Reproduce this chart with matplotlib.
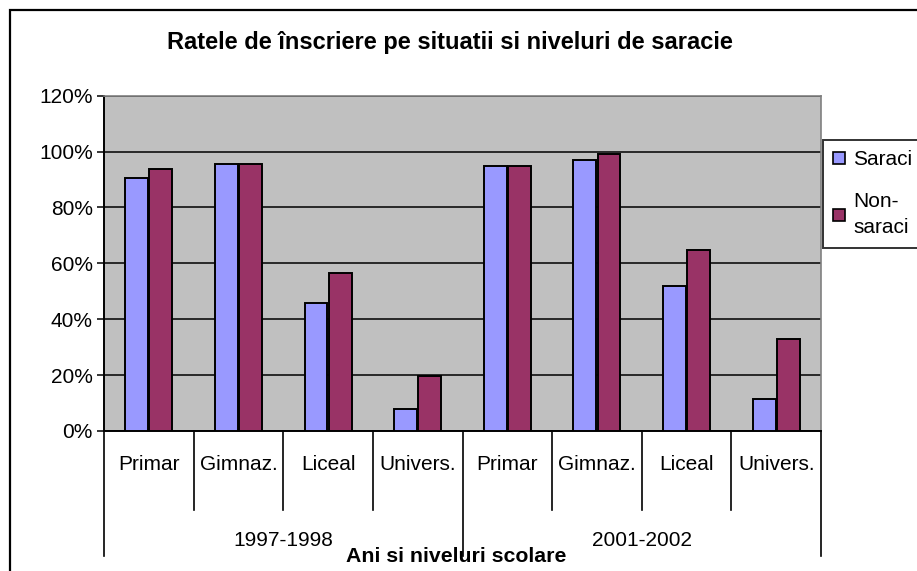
import matplotlib
matplotlib.use("Agg")
import matplotlib.pyplot as plt
from matplotlib.patches import Rectangle, Patch
from matplotlib.ticker import FuncFormatter

plt.rcParams['font.family'] = ['Liberation Sans', 'DejaVu Sans']

# date
levels = ['Primar', 'Gimnaz.', 'Liceal', 'Univers.']
years = ['1997-1998', '2001-2002']
saraci = [90.6, 95.7, 45.7, 7.9, 95.0, 97.1, 51.9, 11.4]
non_saraci = [93.6, 95.7, 56.4, 19.8, 95.0, 99.3, 64.8, 32.9]
yticks = [0, 20, 40, 60, 80, 100, 120]

W, H = 917, 571
fig = plt.figure(figsize=(W / 100, H / 100), dpi=100)
fig.patch.set_facecolor('white')

# chenarul graficului
fig.patches.append(Rectangle((10 / W, -0.1), 1.2, 1 - 10 / H + 0.1, transform=fig.transFigure,
                             fill=False, edgecolor='black', linewidth=1.6))

left, right = 104 / W, 821 / W
bottom, top = (H - 431) / H, (H - 95.7) / H
ax = fig.add_axes([left, bottom, right - left, top - bottom])
ax.set_facecolor('#C0C0C0')

n = len(saraci)
x = list(range(n))
w = 0.255
ax.bar([i - 0.135 for i in x], saraci, width=w, color='#9999FF', edgecolor='black',
       linewidth=1.4, zorder=3, label='Saraci')
ax.bar([i + 0.135 for i in x], non_saraci, width=w, color='#993366', edgecolor='black',
       linewidth=1.4, zorder=3, label='Non-\nsaraci')

ax.set_xlim(-0.5, n - 0.5)
ax.set_ylim(0, 120)
ax.set_yticks(yticks)
ax.yaxis.set_major_formatter(FuncFormatter(lambda v, p: '%d%%' % v))
ax.yaxis.grid(True, color='black', linewidth=1.1, zorder=1)
ax.set_axisbelow(True)
ax.tick_params(axis='y', direction='out', length=5, width=1.1, labelsize=15, pad=3)
ax.set_xticks([])

for s in ['top', 'right']:
    ax.spines[s].set_color('#808080')
    ax.spines[s].set_linewidth(1.2)
for s in ['left', 'bottom']:
    ax.spines[s].set_color('black')
    ax.spines[s].set_linewidth(1.4)

# axa de categorii pe doua niveluri
tr = ax.get_xaxis_transform()
ppx = 431 - 95.7
inner_bot = -(510 - 431) / ppx
outer_bot = -(556 - 431) / ppx
for k in range(n + 1):
    xs = k - 0.5
    if k % 4 == 0:
        ax.plot([xs, xs], [0, outer_bot], color='black', lw=1.2, transform=tr, clip_on=False)
    else:
        ax.plot([xs, xs], [0, inner_bot], color='black', lw=1.2, transform=tr, clip_on=False)

for i in x:
    ax.text(i, -(464 - 431) / ppx, levels[i % 4], transform=tr, ha='center', va='center',
            fontsize=15)
for g, yr in enumerate(years):
    ax.text(g * 4 + 1.5, -(540 - 431) / ppx, yr, transform=tr, ha='center', va='center',
            fontsize=15)

fig.text(456 / W, 1 - 556 / H, 'Ani si niveluri scolare', ha='center', va='center',
         fontsize=15.3, fontweight='bold')
fig.text(450 / W, 1 - 43 / H, 'Ratele de înscriere pe situatii si niveluri de saracie',
         ha='center', va='center', fontsize=17, fontweight='bold')

handles = [Patch(facecolor='#9999FF', edgecolor='black', linewidth=1.2),
           Patch(facecolor='#993366', edgecolor='black', linewidth=1.2)]
leg = fig.legend(handles, ['Saraci', 'Non-\nsaraci'], loc='upper left',
                 bbox_to_anchor=(823 / W, 1 - 140 / H), fontsize=15, frameon=True,
                 fancybox=False, handlelength=0.55, handleheight=0.55, handletextpad=0.4,
                 borderpad=0.5, labelspacing=1.1, borderaxespad=0)
for t in leg.get_texts():
    t.set_linespacing(1.45)
leg.get_frame().set_edgecolor('black')
leg.get_frame().set_linewidth(1.4)

fig.savefig('out.png', dpi=100)
